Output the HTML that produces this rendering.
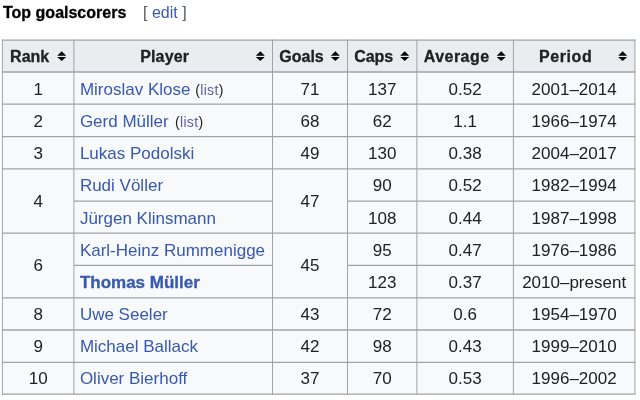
<!DOCTYPE html>
<html><head><meta charset="utf-8"><style>
html,body{margin:0;padding:0;background:#fff;}
body{width:640px;height:400px;overflow:hidden;position:relative;filter:blur(0.35px);font-family:"Liberation Sans",sans-serif;color:#202122;}
.a{position:absolute;}
.c{position:absolute;display:flex;align-items:center;justify-content:center;white-space:nowrap;font-size:17px;line-height:1;}
.l{justify-content:flex-start;}
.h{font-weight:bold;font-size:16px;color:#202122;-webkit-text-stroke:0.3px #202122;}
a{color:#3759b0;text-decoration:none;}
.v{color:#5d5fa8;}
.sm{font-size:14px;letter-spacing:0.35px;}
</style></head><body>

<div class="a" style="left:3px;top:2.5px;font-weight:bold;font-size:16px;line-height:20px;color:#000;-webkit-text-stroke:0.3px #000">Top goalscorers</div>
<div class="a" style="left:143px;top:2.5px;font-size:16px;line-height:20px;color:#54595d;">[ <a>edit</a> ]</div>
<svg class="a" style="left:0;top:0" width="640" height="400" viewBox="0 0 640 400">
<rect x="2.4" y="40.1" width="632.5" height="31.9" fill="#eaecf0"/>
<rect x="2.4" y="72.0" width="632.5" height="322.2" fill="#f8f9fa"/>
<line x1="1.9" y1="40.1" x2="635.4" y2="40.1" stroke="#9fa4ab" stroke-width="1.3"/>
<line x1="1.9" y1="72.0" x2="635.4" y2="72.0" stroke="#9fa4ab" stroke-width="1.3"/>
<line x1="1.9" y1="104.1" x2="635.4" y2="104.1" stroke="#9fa4ab" stroke-width="1.3"/>
<line x1="1.9" y1="136.7" x2="635.4" y2="136.7" stroke="#9fa4ab" stroke-width="1.3"/>
<line x1="1.9" y1="168.8" x2="635.4" y2="168.8" stroke="#9fa4ab" stroke-width="1.3"/>
<line x1="73.9" y1="201.1" x2="272.5" y2="201.1" stroke="#9fa4ab" stroke-width="1.3"/>
<line x1="347.5" y1="201.1" x2="634.9" y2="201.1" stroke="#9fa4ab" stroke-width="1.3"/>
<line x1="1.9" y1="233.2" x2="635.4" y2="233.2" stroke="#9fa4ab" stroke-width="1.3"/>
<line x1="73.9" y1="265.4" x2="272.5" y2="265.4" stroke="#9fa4ab" stroke-width="1.3"/>
<line x1="347.5" y1="265.4" x2="634.9" y2="265.4" stroke="#9fa4ab" stroke-width="1.3"/>
<line x1="1.9" y1="297.8" x2="635.4" y2="297.8" stroke="#9fa4ab" stroke-width="1.3"/>
<line x1="1.9" y1="330.0" x2="635.4" y2="330.0" stroke="#9fa4ab" stroke-width="1.3"/>
<line x1="1.9" y1="362.4" x2="635.4" y2="362.4" stroke="#9fa4ab" stroke-width="1.3"/>
<line x1="1.9" y1="394.2" x2="635.4" y2="394.2" stroke="#9fa4ab" stroke-width="1.3"/>
<line x1="2.4" y1="39.5" x2="2.4" y2="394.8" stroke="#9fa4ab" stroke-width="1.0"/>
<line x1="73.9" y1="39.5" x2="73.9" y2="394.8" stroke="#9fa4ab" stroke-width="1.0"/>
<line x1="272.5" y1="39.5" x2="272.5" y2="394.8" stroke="#9fa4ab" stroke-width="1.0"/>
<line x1="347.5" y1="39.5" x2="347.5" y2="394.8" stroke="#9fa4ab" stroke-width="1.0"/>
<line x1="416.9" y1="39.5" x2="416.9" y2="394.8" stroke="#9fa4ab" stroke-width="1.0"/>
<line x1="513.4" y1="39.5" x2="513.4" y2="394.8" stroke="#9fa4ab" stroke-width="1.0"/>
<line x1="634.9" y1="39.5" x2="634.9" y2="394.8" stroke="#9fa4ab" stroke-width="1.0"/>
<path d="M61.7 51.2L66.2 55.7H57.2Z M61.7 61.1L66.2 57H57.2Z" fill="#000"/>
<path d="M260.3 51.2L264.8 55.7H255.8Z M260.3 61.1L264.8 57H255.8Z" fill="#000"/>
<path d="M335.3 51.2L339.8 55.7H330.8Z M335.3 61.1L339.8 57H330.8Z" fill="#000"/>
<path d="M404.7 51.2L409.2 55.7H400.2Z M404.7 61.1L409.2 57H400.2Z" fill="#000"/>
<path d="M501.2 51.2L505.7 55.7H496.7Z M501.2 61.1L505.7 57H496.7Z" fill="#000"/>
<path d="M622.6999999999999 51.2L627.1999999999999 55.7H618.1999999999999Z M622.6999999999999 61.1L627.1999999999999 57H618.1999999999999Z" fill="#000"/>
</svg>
<div class="c h" style="left:2.4px;top:40.1px;width:71.5px;height:31.9px;padding-right:21px;box-sizing:border-box;padding-left:4px;padding-top:1px"><span style="letter-spacing:0px">Rank</span></div>
<div class="c h" style="left:73.9px;top:40.1px;width:198.6px;height:31.9px;padding-right:21px;box-sizing:border-box;padding-left:4px;padding-top:1px"><span style="letter-spacing:0.15px">Player</span></div>
<div class="c h" style="left:272.5px;top:40.1px;width:75.0px;height:31.9px;padding-right:21px;box-sizing:border-box;padding-left:4px;padding-top:1px"><span style="letter-spacing:0px">Goals</span></div>
<div class="c h" style="left:347.5px;top:40.1px;width:69.39999999999998px;height:31.9px;padding-right:21px;box-sizing:border-box;padding-left:4px;padding-top:1px"><span style="letter-spacing:0px">Caps</span></div>
<div class="c h" style="left:416.9px;top:40.1px;width:96.5px;height:31.9px;padding-right:21px;box-sizing:border-box;padding-left:4px;padding-top:1px"><span style="letter-spacing:0.45px">Average</span></div>
<div class="c h" style="left:513.4px;top:40.1px;width:121.5px;height:31.9px;padding-right:21px;box-sizing:border-box;padding-left:4px;padding-top:1px"><span style="letter-spacing:0.6px">Period</span></div>
<div class="c" style="left:2.4px;top:73.0px;width:71.5px;height:32.099999999999994px;padding-top:1px;box-sizing:border-box;"><span>1</span></div>
<div class="c l" style="left:73.9px;top:73.0px;width:198.6px;height:32.099999999999994px;padding-left:6px;box-sizing:border-box;padding-top:1px"><span><a>Miroslav Klose</a> <span class="sm">(<a class="v">list</a>)</span></span></div>
<div class="c" style="left:272.5px;top:73.0px;width:75.0px;height:32.099999999999994px;padding-top:1px;box-sizing:border-box;"><span>71</span></div>
<div class="c" style="left:347.5px;top:73.0px;width:69.39999999999998px;height:32.099999999999994px;padding-top:1px;box-sizing:border-box;"><span>137</span></div>
<div class="c" style="left:416.9px;top:73.0px;width:96.5px;height:32.099999999999994px;padding-top:1px;box-sizing:border-box;"><span>0.52</span></div>
<div class="c" style="left:513.4px;top:73.0px;width:121.5px;height:32.099999999999994px;padding-top:1px;box-sizing:border-box;"><span>2001–2014</span></div>
<div class="c" style="left:2.4px;top:105.1px;width:71.5px;height:32.599999999999994px;padding-top:1px;box-sizing:border-box;"><span>2</span></div>
<div class="c l" style="left:73.9px;top:105.1px;width:198.6px;height:32.599999999999994px;padding-left:6px;box-sizing:border-box;padding-top:1px"><span><a>Gerd Müller</a> <span class="sm" style="margin-left:1.5px">(<a class="v">list</a>)</span></span></div>
<div class="c" style="left:272.5px;top:105.1px;width:75.0px;height:32.599999999999994px;padding-top:1px;box-sizing:border-box;"><span>68</span></div>
<div class="c" style="left:347.5px;top:105.1px;width:69.39999999999998px;height:32.599999999999994px;padding-top:1px;box-sizing:border-box;"><span>62</span></div>
<div class="c" style="left:416.9px;top:105.1px;width:96.5px;height:32.599999999999994px;padding-top:1px;box-sizing:border-box;"><span>1.1</span></div>
<div class="c" style="left:513.4px;top:105.1px;width:121.5px;height:32.599999999999994px;padding-top:1px;box-sizing:border-box;"><span>1966–1974</span></div>
<div class="c" style="left:2.4px;top:136.7px;width:71.5px;height:32.10000000000002px;padding-top:1px;box-sizing:border-box;"><span>3</span></div>
<div class="c l" style="left:73.9px;top:136.7px;width:198.6px;height:32.10000000000002px;padding-left:6px;box-sizing:border-box;padding-top:1px"><span><a>Lukas Podolski</a></span></div>
<div class="c" style="left:272.5px;top:136.7px;width:75.0px;height:32.10000000000002px;padding-top:1px;box-sizing:border-box;"><span>49</span></div>
<div class="c" style="left:347.5px;top:136.7px;width:69.39999999999998px;height:32.10000000000002px;padding-top:1px;box-sizing:border-box;"><span>130</span></div>
<div class="c" style="left:416.9px;top:136.7px;width:96.5px;height:32.10000000000002px;padding-top:1px;box-sizing:border-box;"><span>0.38</span></div>
<div class="c" style="left:513.4px;top:136.7px;width:121.5px;height:32.10000000000002px;padding-top:1px;box-sizing:border-box;"><span>2004–2017</span></div>
<div class="c" style="left:2.4px;top:168.8px;width:71.5px;height:64.39999999999998px;padding-top:1px;box-sizing:border-box;"><span>4</span></div>
<div class="c l" style="left:73.9px;top:168.8px;width:198.6px;height:32.29999999999998px;padding-left:6px;box-sizing:border-box;padding-top:1px"><span><a>Rudi Völler</a></span></div>
<div class="c" style="left:272.5px;top:168.8px;width:75.0px;height:64.39999999999998px;padding-top:1px;box-sizing:border-box;"><span>47</span></div>
<div class="c" style="left:347.5px;top:168.8px;width:69.39999999999998px;height:32.29999999999998px;padding-top:1px;box-sizing:border-box;"><span>90</span></div>
<div class="c" style="left:416.9px;top:168.8px;width:96.5px;height:32.29999999999998px;padding-top:1px;box-sizing:border-box;"><span>0.52</span></div>
<div class="c" style="left:513.4px;top:168.8px;width:121.5px;height:32.29999999999998px;padding-top:1px;box-sizing:border-box;"><span>1982–1994</span></div>
<div class="c l" style="left:73.9px;top:202.1px;width:198.6px;height:32.099999999999994px;padding-left:6px;box-sizing:border-box;padding-top:1px"><span><a>Jürgen Klinsmann</a></span></div>
<div class="c" style="left:347.5px;top:202.1px;width:69.39999999999998px;height:32.099999999999994px;padding-top:1px;box-sizing:border-box;"><span>108</span></div>
<div class="c" style="left:416.9px;top:202.1px;width:96.5px;height:32.099999999999994px;padding-top:1px;box-sizing:border-box;"><span>0.44</span></div>
<div class="c" style="left:513.4px;top:202.1px;width:121.5px;height:32.099999999999994px;padding-top:1px;box-sizing:border-box;"><span>1987–1998</span></div>
<div class="c" style="left:2.4px;top:233.2px;width:71.5px;height:64.60000000000002px;padding-top:1px;box-sizing:border-box;"><span>6</span></div>
<div class="c l" style="left:73.9px;top:234.2px;width:198.6px;height:32.19999999999999px;padding-left:6px;box-sizing:border-box;padding-top:1px"><span><a>Karl-Heinz Rummenigge</a></span></div>
<div class="c" style="left:272.5px;top:233.2px;width:75.0px;height:64.60000000000002px;padding-top:1px;box-sizing:border-box;"><span>45</span></div>
<div class="c" style="left:347.5px;top:234.2px;width:69.39999999999998px;height:32.19999999999999px;padding-top:1px;box-sizing:border-box;"><span>95</span></div>
<div class="c" style="left:416.9px;top:234.2px;width:96.5px;height:32.19999999999999px;padding-top:1px;box-sizing:border-box;"><span>0.47</span></div>
<div class="c" style="left:513.4px;top:234.2px;width:121.5px;height:32.19999999999999px;padding-top:1px;box-sizing:border-box;"><span>1976–1986</span></div>
<div class="c l" style="left:73.9px;top:265.4px;width:198.6px;height:32.400000000000034px;padding-left:6px;box-sizing:border-box;padding-top:1px"><span><a><b style="-webkit-text-stroke:0.3px #3759b0">Thomas Müller</b></a></span></div>
<div class="c" style="left:347.5px;top:265.4px;width:69.39999999999998px;height:32.400000000000034px;padding-top:1px;box-sizing:border-box;"><span>123</span></div>
<div class="c" style="left:416.9px;top:265.4px;width:96.5px;height:32.400000000000034px;padding-top:1px;box-sizing:border-box;"><span>0.37</span></div>
<div class="c" style="left:513.4px;top:265.4px;width:121.5px;height:32.400000000000034px;padding-top:1px;box-sizing:border-box;"><span>2010–present</span></div>
<div class="c" style="left:2.4px;top:297.8px;width:71.5px;height:32.19999999999999px;padding-top:1px;box-sizing:border-box;"><span>8</span></div>
<div class="c l" style="left:73.9px;top:297.8px;width:198.6px;height:32.19999999999999px;padding-left:6px;box-sizing:border-box;padding-top:1px"><span><a>Uwe Seeler</a></span></div>
<div class="c" style="left:272.5px;top:297.8px;width:75.0px;height:32.19999999999999px;padding-top:1px;box-sizing:border-box;"><span>43</span></div>
<div class="c" style="left:347.5px;top:297.8px;width:69.39999999999998px;height:32.19999999999999px;padding-top:1px;box-sizing:border-box;"><span>72</span></div>
<div class="c" style="left:416.9px;top:297.8px;width:96.5px;height:32.19999999999999px;padding-top:1px;box-sizing:border-box;"><span>0.6</span></div>
<div class="c" style="left:513.4px;top:297.8px;width:121.5px;height:32.19999999999999px;padding-top:1px;box-sizing:border-box;"><span>1954–1970</span></div>
<div class="c" style="left:2.4px;top:330.0px;width:71.5px;height:32.39999999999998px;padding-top:1px;box-sizing:border-box;"><span>9</span></div>
<div class="c l" style="left:73.9px;top:330.0px;width:198.6px;height:32.39999999999998px;padding-left:6px;box-sizing:border-box;padding-top:1px"><span><a>Michael Ballack</a></span></div>
<div class="c" style="left:272.5px;top:330.0px;width:75.0px;height:32.39999999999998px;padding-top:1px;box-sizing:border-box;"><span>42</span></div>
<div class="c" style="left:347.5px;top:330.0px;width:69.39999999999998px;height:32.39999999999998px;padding-top:1px;box-sizing:border-box;"><span>98</span></div>
<div class="c" style="left:416.9px;top:330.0px;width:96.5px;height:32.39999999999998px;padding-top:1px;box-sizing:border-box;"><span>0.43</span></div>
<div class="c" style="left:513.4px;top:330.0px;width:121.5px;height:32.39999999999998px;padding-top:1px;box-sizing:border-box;"><span>1999–2010</span></div>
<div class="c" style="left:2.4px;top:362.4px;width:71.5px;height:31.80000000000001px;padding-top:1px;box-sizing:border-box;"><span>10</span></div>
<div class="c l" style="left:73.9px;top:362.4px;width:198.6px;height:31.80000000000001px;padding-left:6px;box-sizing:border-box;padding-top:1px"><span><a>Oliver Bierhoff</a></span></div>
<div class="c" style="left:272.5px;top:362.4px;width:75.0px;height:31.80000000000001px;padding-top:1px;box-sizing:border-box;"><span>37</span></div>
<div class="c" style="left:347.5px;top:362.4px;width:69.39999999999998px;height:31.80000000000001px;padding-top:1px;box-sizing:border-box;"><span>70</span></div>
<div class="c" style="left:416.9px;top:362.4px;width:96.5px;height:31.80000000000001px;padding-top:1px;box-sizing:border-box;"><span>0.53</span></div>
<div class="c" style="left:513.4px;top:362.4px;width:121.5px;height:31.80000000000001px;padding-top:1px;box-sizing:border-box;"><span>1996–2002</span></div>
</body></html>
